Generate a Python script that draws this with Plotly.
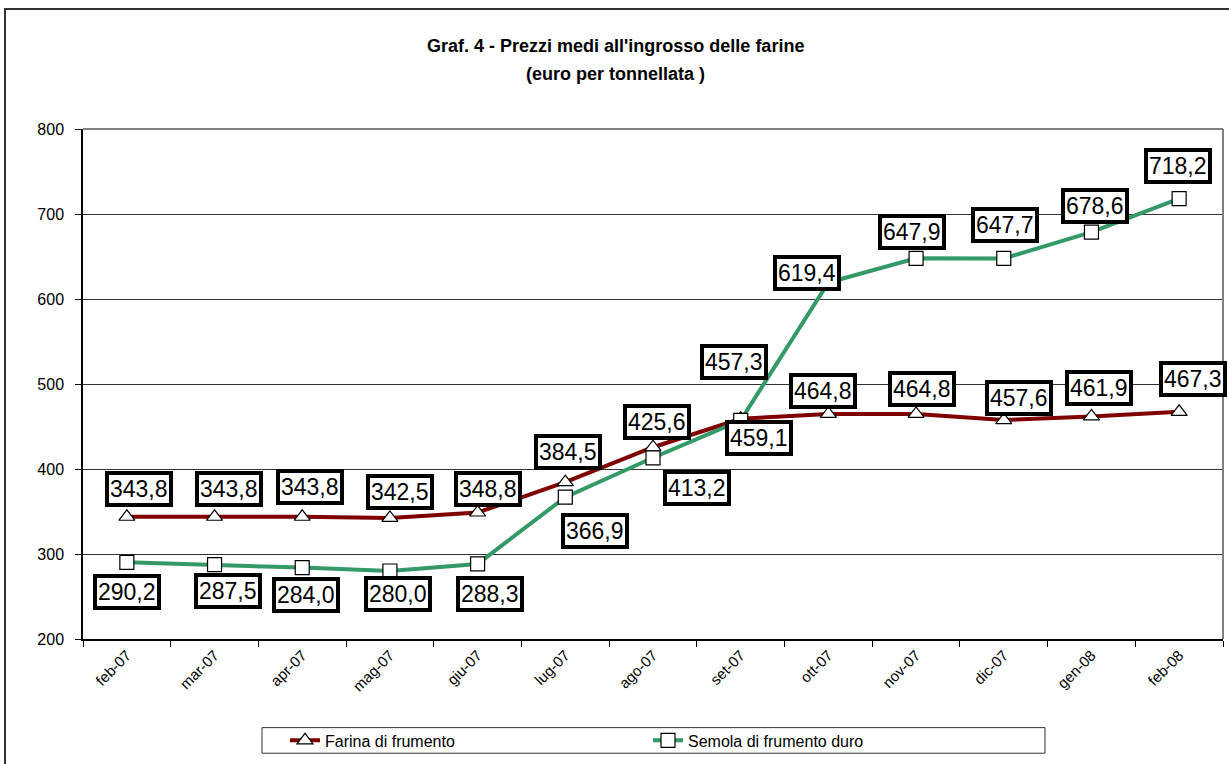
import plotly.graph_objects as go

months = ["feb-07", "mar-07", "apr-07", "mag-07", "giu-07", "lug-07", "ago-07",
          "set-07", "ott-07", "nov-07", "dic-07", "gen-08", "feb-08"]
farina = [343.8, 343.8, 343.8, 342.5, 348.8, 384.5, 425.6, 459.1, 464.8, 464.8, 457.6, 461.9, 467.3]
semola = [290.2, 287.5, 284.0, 280.0, 288.3, 366.9, 413.2, 457.3, 619.4, 647.9, 647.7, 678.6, 718.2]
title_lines = ["Graf. 4 - Prezzi medi all'ingrosso delle farine", "(euro per tonnellata )"]

# label offsets in pixels (dx right, dy down) - styling only
farina_dx = [12, 14, 8, 10, 10, 3, 4, 18, -5, 6, 15, 8, 14]
farina_dy = [-28, -28, -30, -26, -24, -30, -25, 19, -23, -25, -22, -28, -33]
semola_dx = [0, 13, 4, 8, 12, 30, 44, -7, -21, -4, 1, 4, -1]
semola_dy = [30, 26, 27, 23, 30, 34, 30, -58, -10, -26, -33, -26, -33]

FONT = "Arial, Liberation Sans, sans-serif"
RED = "#800000"
GREEN = "#339966"

L, R, T, B = 83, 1223, 129, 647
W, H = R - L, B - T


def px(xp):
    return (xp - L) / W


def py(yp):
    return (B - yp) / H


fig = go.Figure()
fig.add_trace(go.Scatter(
    x=months, y=farina, name="Farina di frumento", mode="lines+markers",
    line=dict(color=RED, width=4),
    marker=dict(symbol="triangle-up", size=14, color="white",
                line=dict(color="black", width=1.2)),
))
fig.add_trace(go.Scatter(
    x=months, y=semola, name="Semola di frumento duro", mode="lines+markers",
    line=dict(color=GREEN, width=4),
    marker=dict(symbol="square", size=14, color="white",
                line=dict(color="black", width=1.2)),
))


def fmt(v):
    return f"{v:.1f}".replace(".", ",")


annotations = []
for series, dxs, dys in ((farina, farina_dx, farina_dy), (semola, semola_dx, semola_dy)):
    for m, v, dx, dy in zip(months, series, dxs, dys):
        annotations.append(dict(
            x=m, y=v, xref="x", yref="y", text=fmt(v), showarrow=False,
            xshift=dx, yshift=-dy,
            font=dict(family=FONT, size=23, color="black"),
            bgcolor="white", bordercolor="black", borderwidth=4, borderpad=1,
        ))

for line_text, yp in zip(title_lines, (45, 73)):
    annotations.append(dict(
        text=f"<b>{line_text}</b>",
        xref="paper", yref="paper", x=px(615), y=py(yp),
        xanchor="center", yanchor="middle", showarrow=False,
        font=dict(family=FONT, size=18, color="black"),
    ))

shapes = [
    # outer chart border
    dict(type="rect", xref="paper", yref="paper",
         x0=px(5), x1=px(1245), y0=py(790), y1=py(7),
         line=dict(color="#333333", width=2), fillcolor="rgba(0,0,0,0)", layer="below"),
    # top and right plot border
    dict(type="line", xref="paper", yref="paper", x0=0, x1=1, y0=1, y1=1,
         line=dict(color="#808080", width=2)),
    dict(type="line", xref="paper", yref="paper", x0=1, x1=1, y0=0, y1=1,
         line=dict(color="#808080", width=2)),
    # legend box
    dict(type="rect", xref="paper", yref="paper",
         x0=px(262), x1=px(1045), y0=py(763), y1=py(737),
         line=dict(color="#333333", width=1), fillcolor="rgba(0,0,0,0)"),
]

fig.update_layout(
    width=1229, height=764,
    margin=dict(l=L, r=1229 - R, t=T, b=764 - B),
    paper_bgcolor="white", plot_bgcolor="white",
    font=dict(family=FONT, size=15, color="black"),
    showlegend=True,
    legend=dict(
        orientation="h", x=px(285), xanchor="left",
        y=py(750), yanchor="middle",
        entrywidth=318, entrywidthmode="pixels",
        font=dict(family=FONT, size=16, color="black"),
        bgcolor="rgba(0,0,0,0)", itemwidth=30, tracegroupgap=0,
    ),
    annotations=annotations,
    shapes=shapes,
    xaxis=dict(
        type="category", categoryorder="array", categoryarray=months,
        range=[-0.5, len(months) - 0.5],
        showline=True, linecolor="black", linewidth=1.5,
        ticks="outside", ticklen=6, tickcolor="black", tickson="boundaries",
        tickangle=-45, tickfont=dict(family=FONT, size=15, color="black"),
        showgrid=False, zeroline=False,
    ),
    yaxis=dict(
        range=[200, 800], tickvals=[200, 300, 400, 500, 600, 700, 800],
        showline=True, linecolor="black", linewidth=1.5,
        ticks="outside", ticklen=6, tickcolor="black", ticklabelstandoff=8,
        tickfont=dict(family=FONT, size=16, color="black"),
        showgrid=True, gridcolor="#333333", gridwidth=1, zeroline=False,
    ),
)

fig.write_html(
    "out.html",
    config={"displayModeBar": False},
    post_script="document.body.style.margin='0';document.body.style.overflow='hidden';",
)
